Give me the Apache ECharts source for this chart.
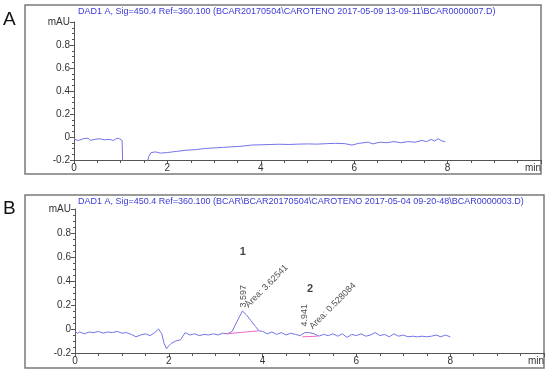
<!DOCTYPE html>
<html><head><meta charset="utf-8">
<script src="https://cdn.jsdelivr.net/npm/echarts@6/dist/echarts.min.js"></script>
<style>html,body{margin:0;padding:0;background:#fff}#c{width:550px;height:377px}</style>
</head><body><div id="c"></div>
<script>
// ---- Data ----
const titleA = "DAD1 A, Sig=450.4 Ref=360.100 (BCAR20170504\\CAROTENO 2017-05-09 13-09-11\\BCAR0000007.D)";
const titleB = "DAD1 A, Sig=450.4 Ref=360.100 (BCAR\\BCAR20170504\\CAROTENO 2017-05-04 09-20-48\\BCAR0000003.D)";
const xTicks = [0, 2, 4, 6, 8];
const yTicks = [-0.2, 0, 0.2, 0.4, 0.6, 0.8];
const timeA = [0,0.1,0.2,0.3,0.35,0.45,0.55,0.65,0.75,0.85,0.92,0.97,1.0,1.03,1.05,1.5,1.6,1.65,1.75,1.85,2.0,2.2,2.4,2.6,2.8,3.0,3.2,3.4,3.6,3.8,4.0,4.2,4.4,4.6,4.8,5.0,5.2,5.4,5.6,5.8,5.95,6.1,6.3,6.4,6.55,6.7,6.85,7.0,7.15,7.3,7.45,7.55,7.65,7.72,7.8,7.88,7.95];
const signalA = [-0.02,-0.03,-0.015,-0.01,-0.03,-0.02,-0.015,-0.025,-0.02,-0.03,-0.01,-0.015,-0.02,-0.03,-0.35,-0.35,-0.17,-0.135,-0.13,-0.14,-0.135,-0.125,-0.115,-0.11,-0.1,-0.095,-0.09,-0.085,-0.08,-0.07,-0.068,-0.065,-0.063,-0.065,-0.062,-0.06,-0.062,-0.058,-0.055,-0.058,-0.07,-0.055,-0.045,-0.06,-0.045,-0.05,-0.04,-0.05,-0.04,-0.045,-0.03,-0.04,-0.02,-0.035,-0.015,-0.035,-0.04];
const timeB = [0,0.05,0.1,0.2,0.3,0.4,0.5,0.6,0.7,0.8,0.9,1.0,1.1,1.2,1.3,1.4,1.5,1.6,1.7,1.78,1.85,1.9,1.95,2.0,2.05,2.15,2.25,2.3,2.35,2.45,2.55,2.65,2.75,2.85,2.95,3.05,3.15,3.25,3.35,3.45,3.57,3.65,3.75,3.85,3.92,4.0,4.1,4.2,4.3,4.4,4.5,4.6,4.7,4.8,4.9,5.0,5.1,5.2,5.3,5.4,5.5,5.6,5.7,5.8,5.9,6.0,6.1,6.2,6.3,6.4,6.5,6.6,6.7,6.8,6.9,7.0,7.1,7.2,7.3,7.4,7.5,7.6,7.7,7.8,7.9,8.0];
const signalB = [-0.02,-0.035,-0.025,-0.04,-0.025,-0.03,-0.02,-0.035,-0.025,-0.03,-0.02,-0.035,-0.03,-0.045,-0.065,-0.05,-0.04,-0.055,-0.03,0.0,-0.04,-0.12,-0.165,-0.14,-0.12,-0.1,-0.09,-0.06,-0.03,-0.05,-0.04,-0.055,-0.045,-0.05,-0.04,-0.05,-0.035,-0.04,-0.02,0.06,0.15,0.12,0.07,0.02,-0.015,-0.02,-0.04,-0.025,-0.045,-0.03,-0.05,-0.035,-0.045,-0.055,-0.03,-0.03,-0.04,-0.06,-0.045,-0.055,-0.04,-0.06,-0.04,-0.07,-0.045,-0.055,-0.04,-0.06,-0.05,-0.03,-0.055,-0.045,-0.065,-0.04,-0.06,-0.05,-0.065,-0.06,-0.065,-0.06,-0.065,-0.06,-0.05,-0.065,-0.05,-0.065];
const baselineB1 = [[3.23,-0.04],[3.92,-0.015]];
const baselineB2 = [[4.85,-0.065],[5.17,-0.06]];
const peakNumbers = [[3.58,0.64,'1'],[5.01,0.33,'2']];
const peakTimes = [[3.6,0.18,'3.597'],[4.9,0.02,'4.941']];
const peakAreas = [[3.66,0.19,'Area: 3.62541'],[5.03,0.01,'Area: 0.528084']];

// ---- Chart ----
const chart = echarts.init(document.getElementById('c'), null, {renderer:'canvas'});
const lineColor = '#7373e8';
const axCol = '#555';
function xAx(gi){
  return {gridIndex:gi,type:'value',min:0,max:10,interval:2,
    axisLine:{onZero:false,lineStyle:{color:axCol,width:1}},
    axisTick:{show:true,length:4,lineStyle:{color:axCol}},
    minorTick:{show:true,splitNumber:4,length:3,lineStyle:{color:axCol}},
    splitLine:{show:false},
    axisLabel:{fontSize:10,color:'#333',margin:3,fontFamily:'Liberation Sans',alignMaxLabel:'right',
      formatter:v=> v===10 ? 'min' : (xTicks.includes(v)? String(v):'')}};
}
function yAx(gi){
  return {gridIndex:gi,type:'value',min:-0.2,max:1,interval:0.2,
    axisLine:{show:true,onZero:false,lineStyle:{color:axCol,width:1}},
    axisTick:{show:true,length:4,lineStyle:{color:axCol}},
    minorTick:{show:true,splitNumber:4,length:2,lineStyle:{color:axCol}},
    splitLine:{show:false},
    axisLabel:{fontSize:10,color:'#333',margin:4,fontFamily:'Liberation Sans',
      formatter:v=>{ const r=Math.round(v*10)/10; if(r===1) return 'mAU'; const m=yTicks.find(t=>Math.abs(t-r)<1e-9); return m===undefined?'':String(m);} }};
}
function annot(gi, arr, rot, style){
  return {type:'scatter',xAxisIndex:gi,yAxisIndex:gi,symbolSize:0,silent:true,
    data:arr.map(a=>({value:[a[0],a[1]],name:a[2]})),
    label:{show:true,position:[0,0],formatter:p=>p.name,rotate:rot,align:rot?'left':'center',verticalAlign:'middle',
      fontFamily:'Liberation Sans',...style}};
}
chart.setOption({
  animation:false,
  grid:[{left:74,top:22,width:467,height:138},{left:75,top:209,width:469,height:144}],
  xAxis:[xAx(0),xAx(1)],
  yAxis:[yAx(0),yAx(1)],
  graphic:[
    {type:'rect',shape:{x:25,y:5,width:516,height:169},style:{fill:'none',stroke:'#7a7a7a',lineWidth:1.5}},
    {type:'rect',shape:{x:25,y:195,width:519,height:173},style:{fill:'none',stroke:'#7a7a7a',lineWidth:1.5}},
    {type:'text',left:78,top:7,style:{text:titleA,fontSize:9,fill:'#3a3ad6',fontFamily:'Liberation Sans'}},
    {type:'text',left:78,top:197,style:{text:titleB,fontSize:9,fill:'#3a3ad6',fontFamily:'Liberation Sans'}},
    {type:'text',left:3,top:10,style:{text:'A',fontSize:19,fill:'#111',fontFamily:'Liberation Sans'}},
    {type:'text',left:3,top:199,style:{text:'B',fontSize:19,fill:'#111',fontFamily:'Liberation Sans'}}
  ],
  series:[
    {type:'line',xAxisIndex:0,yAxisIndex:0,data:timeA.map((t,i)=>[t,signalA[i]]),showSymbol:false,symbol:'none',clip:true,
      lineStyle:{color:lineColor,width:1}},
    {type:'line',xAxisIndex:1,yAxisIndex:1,data:timeB.map((t,i)=>[t,signalB[i]]),showSymbol:false,symbol:'none',clip:true,
      lineStyle:{color:lineColor,width:1}},
    {type:'line',xAxisIndex:1,yAxisIndex:1,data:baselineB1,symbol:'none',lineStyle:{color:'#ee66cc',width:1}},
    {type:'line',xAxisIndex:1,yAxisIndex:1,data:baselineB2,symbol:'none',lineStyle:{color:'#ee66cc',width:1}},
    annot(1,peakNumbers,0,{fontSize:11,fontWeight:'bold',color:'#111'}),
    annot(1,peakTimes,90,{fontSize:9,color:'#222'}),
    annot(1,peakAreas,45,{fontSize:9,color:'#222'})
  ]
});
</script></body></html>
